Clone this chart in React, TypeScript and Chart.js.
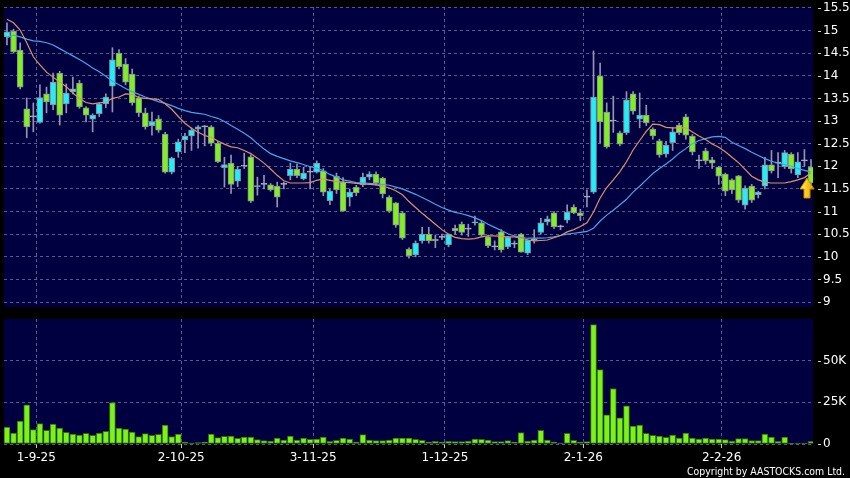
import React, { useEffect, useRef } from 'react';
import { Chart, registerables } from 'chart.js';

Chart.register(...registerables);

// ---------- DATA ----------
const dates = [
  '2025-08-26','2025-08-27','2025-08-28','2025-08-29',
  '2025-09-01','2025-09-02','2025-09-03','2025-09-04','2025-09-05','2025-09-08','2025-09-09','2025-09-10','2025-09-11','2025-09-12',
  '2025-09-15','2025-09-16','2025-09-17','2025-09-18','2025-09-19','2025-09-22','2025-09-23','2025-09-24','2025-09-25','2025-09-26',
  '2025-09-29','2025-09-30',
  '2025-10-02','2025-10-03','2025-10-06','2025-10-08','2025-10-09','2025-10-10','2025-10-13','2025-10-14','2025-10-15','2025-10-16',
  '2025-10-17','2025-10-20','2025-10-21','2025-10-22','2025-10-23','2025-10-24','2025-10-27','2025-10-28','2025-10-30','2025-10-31',
  '2025-11-03','2025-11-04','2025-11-05','2025-11-06','2025-11-07','2025-11-10','2025-11-11','2025-11-12','2025-11-13','2025-11-14',
  '2025-11-17','2025-11-18','2025-11-19','2025-11-20','2025-11-21','2025-11-24','2025-11-25','2025-11-26','2025-11-27','2025-11-28',
  '2025-12-01','2025-12-02','2025-12-03','2025-12-04','2025-12-05','2025-12-08','2025-12-09','2025-12-10','2025-12-11','2025-12-12',
  '2025-12-15','2025-12-16','2025-12-17','2025-12-18','2025-12-19','2025-12-22','2025-12-23','2025-12-24','2025-12-29','2025-12-30',
  '2025-12-31',
  '2026-01-02','2026-01-05','2026-01-06','2026-01-07','2026-01-08','2026-01-09','2026-01-12','2026-01-13','2026-01-14','2026-01-15',
  '2026-01-16','2026-01-19','2026-01-20','2026-01-21','2026-01-22','2026-01-23','2026-01-26','2026-01-27','2026-01-28','2026-01-29',
  '2026-01-30',
  '2026-02-02','2026-02-03','2026-02-04','2026-02-05','2026-02-06','2026-02-09','2026-02-10','2026-02-11','2026-02-12','2026-02-13',
  '2026-02-16','2026-02-20','2026-02-23','2026-02-24','2026-02-25',
];

const tickDates = ['2025-09-01', '2025-10-02', '2025-11-03', '2025-12-01', '2026-01-02', '2026-02-02'];
const tickLabels = ['1-9-25', '2-10-25', '3-11-25', '1-12-25', '2-1-26', '2-2-26'];

const opens = [
  14.86,14.99,14.57,13.27,13.09,12.97,13.6,13.36,14.06,13.38,
  13.65,13.84,13.29,13.04,13.16,13.38,13.77,14.5,14.26,14.04,
  13.51,13.18,12.9,13.05,12.71,11.87,12.32,12.58,12.67,12.82,
  12.87,12.87,12.51,11.97,12.07,11.67,12.0,12.21,11.55,11.6,
  11.59,11.56,11.6,11.79,11.94,11.72,11.87,11.87,11.9,11.24,
  11.78,11.65,11.32,11.54,11.59,11.76,11.83,11.74,11.32,11.19,
  10.97,10.17,10.04,10.35,10.5,10.39,10.43,10.26,10.63,10.72,
  10.61,10.75,10.75,10.44,10.22,10.55,10.22,10.28,10.5,10.08,
  10.37,10.54,10.77,10.97,10.66,10.81,11.1,10.97,11.32,11.43,
  14.0,13.2,13.0,12.74,12.74,13.6,13.04,13.13,12.82,12.56,
  12.27,12.52,12.91,13.09,12.67,12.12,12.34,12.14,11.98,11.83,
  11.7,11.79,11.14,11.56,11.37,11.56,12.03,12.07,11.99,12.27,
  11.81,12.12,11.99,
];
const highs = [
  15.17,15.03,14.73,13.51,13.4,13.8,13.75,14.06,14.1,13.82,
  13.97,13.9,13.32,13.16,13.4,13.6,14.62,14.58,14.38,14.15,
  13.55,13.28,13.2,13.12,12.75,12.2,12.6,12.73,12.85,12.9,
  12.9,12.9,12.55,12.2,12.25,12.0,12.29,12.25,11.76,11.8,
  11.62,11.65,11.65,12.07,12.05,11.98,12.0,12.12,11.95,11.5,
  11.85,11.75,11.5,11.58,11.85,11.88,11.88,11.76,11.35,11.2,
  11.0,10.2,10.35,10.65,10.65,10.48,10.5,10.5,10.7,10.77,
  10.72,10.9,10.8,10.48,10.35,10.6,10.45,10.35,10.52,10.38,
  10.6,10.85,10.9,11.0,10.7,11.15,11.15,11.05,11.48,14.55,
  14.28,13.4,13.55,12.78,13.65,13.65,13.62,13.35,12.85,12.6,
  12.55,12.85,12.95,13.15,12.7,12.25,12.4,12.2,12.0,11.85,
  11.72,11.8,11.57,11.6,11.45,12.2,12.35,12.3,12.35,12.3,
  12.3,12.37,12.15,
];
const lows = [
  14.68,14.5,13.71,12.63,12.76,12.95,13.18,13.25,12.91,13.18,
  13.6,13.28,12.98,12.76,13.1,13.3,13.2,14.15,13.8,13.35,
  13.1,12.82,12.69,12.75,11.85,11.83,12.2,12.3,12.35,12.4,
  12.45,12.45,12.08,11.54,11.4,11.55,11.95,11.2,11.36,11.5,
  11.45,11.1,11.5,11.7,11.75,11.7,11.5,11.85,11.35,11.15,
  11.4,11.0,11.12,11.35,11.55,11.7,11.58,11.3,10.98,10.65,
  10.38,9.97,10.0,10.3,10.3,10.2,10.38,10.22,10.5,10.48,
  10.45,10.7,10.45,10.2,10.15,10.1,10.18,10.2,10.1,10.05,
  10.3,10.5,10.7,10.62,10.6,10.75,10.95,10.8,11.1,11.4,
  12.51,12.4,12.75,12.45,12.7,13.15,12.85,12.9,12.6,12.2,
  12.2,12.35,12.7,12.6,12.25,11.95,12.05,11.95,11.6,11.35,
  11.4,11.2,11.05,11.2,11.3,11.5,11.85,11.75,11.95,11.85,
  11.75,12.0,11.6,
];
const closes = [
  14.97,14.53,13.75,12.87,13.09,13.52,13.42,13.86,13.13,13.62,
  13.71,13.31,13.13,13.13,13.38,13.53,14.35,14.2,13.86,13.4,
  13.18,12.87,12.99,12.8,11.87,12.18,12.54,12.67,12.8,12.87,
  12.87,12.51,12.1,12.04,11.6,11.93,12.0,11.23,11.57,11.6,
  11.48,11.32,11.6,11.94,11.79,11.85,11.87,12.07,11.43,11.45,
  11.48,11.01,11.43,11.41,11.76,11.83,11.63,11.39,11.01,10.7,
  10.41,10.02,10.3,10.5,10.35,10.35,10.43,10.5,10.57,10.54,
  10.61,10.77,10.48,10.24,10.22,10.15,10.43,10.28,10.1,10.37,
  10.37,10.75,10.84,10.66,10.66,10.99,10.97,10.91,11.32,13.53,
  12.98,12.43,13.0,12.49,13.47,13.22,13.13,12.96,12.67,12.25,
  12.47,12.76,12.74,12.69,12.32,12.12,12.12,12.07,11.78,11.45,
  11.48,11.25,11.52,11.25,11.43,12.03,11.9,12.07,12.3,11.94,
  12.1,12.12,11.63,
];
const volumes = [
  10200,6600,13700,23500,8600,12200,8200,12000,9600,7000,
  6000,5400,6400,5200,6600,7600,24900,9600,9000,7200,
  4400,6200,5200,5800,11400,4400,6000,1200,600,900,
  1200,6000,3800,4600,4800,3400,4200,4200,2600,2000,
  1800,3600,2400,4800,2400,3600,2800,2900,4200,1600,
  2200,3600,3000,1000,5600,2400,2000,2000,2400,3600,
  3600,3600,2800,2200,1200,1600,1200,1600,1400,1400,
  1800,3000,2800,2400,1400,1400,2000,1200,6800,1800,
  2400,8200,2400,1200,600,6400,2200,1200,1400,71600,
  44700,17500,33300,15700,22900,10800,11400,6400,5200,4800,
  4000,5400,3600,6600,3600,3000,3600,3000,3000,2600,
  1800,3200,3200,2000,2000,6000,4200,1600,4200,600,
  600,600,1600,
];
const ma10 = [
  15.25,15.17,15.01,14.73,14.42,14.24,14.08,13.97,13.86,13.76,
  13.62,13.5,13.41,13.38,13.4,13.42,13.5,13.53,13.6,13.59,
  13.52,13.5,13.49,13.48,13.38,13.26,13.1,12.95,12.84,12.75,
  12.68,12.64,12.56,12.49,12.43,12.41,12.35,12.28,12.18,12.07,
  11.94,11.8,11.68,11.63,11.63,11.63,11.64,11.69,11.72,11.69,
  11.66,11.65,11.64,11.62,11.61,11.6,11.59,11.56,11.52,11.46,
  11.37,11.22,11.09,10.96,10.84,10.72,10.6,10.5,10.43,10.4,
  10.39,10.4,10.44,10.46,10.46,10.45,10.44,10.44,10.41,10.37,
  10.35,10.36,10.37,10.42,10.47,10.55,10.6,10.67,10.75,10.99,
  11.3,11.53,11.7,11.88,12.1,12.36,12.57,12.77,12.93,12.92,
  12.86,12.85,12.85,12.85,12.76,12.67,12.59,12.49,12.42,12.32,
  12.2,12.08,11.93,11.78,11.7,11.65,11.63,11.63,11.63,11.66,
  11.7,11.75,11.85,
];
const ma20 = [
  14.84,14.9,14.86,14.81,14.77,14.76,14.73,14.68,14.6,14.52,
  14.44,14.36,14.27,14.17,14.09,13.99,13.88,13.8,13.72,13.65,
  13.59,13.53,13.48,13.43,13.39,13.34,13.28,13.23,13.19,13.17,
  13.15,13.1,13.06,12.99,12.9,12.82,12.73,12.63,12.5,12.38,
  12.28,12.22,12.17,12.12,12.08,12.04,11.99,11.96,11.9,11.82,
  11.76,11.7,11.67,11.64,11.63,11.62,11.61,11.6,11.58,11.54,
  11.5,11.44,11.38,11.31,11.24,11.16,11.09,11.03,10.98,10.95,
  10.91,10.86,10.8,10.72,10.65,10.58,10.51,10.46,10.43,10.41,
  10.41,10.41,10.42,10.44,10.47,10.5,10.52,10.54,10.56,10.63,
  10.79,10.92,11.03,11.15,11.27,11.43,11.56,11.7,11.84,11.95,
  12.05,12.16,12.29,12.39,12.5,12.57,12.61,12.65,12.66,12.64,
  12.53,12.46,12.39,12.31,12.24,12.17,12.11,12.07,12.04,12.0,
  11.95,11.91,11.87,
];

const priceTicks = [9, 9.5, 10, 10.5, 11, 11.5, 12, 12.5, 13, 13.5, 14, 14.5, 15, 15.5];
const volumeTicks = [0, 25000, 50000];
const volumeTickLabels = ['0', '25K', '50K'];
const copyrightText = 'Copyright by AASTOCKS.com Ltd.';

// ---------- STYLE ----------
const NAVY = '#000040';
const GRID = 'rgba(120,120,175,0.75)';
const UP = '#22eef6';
const DOWN = '#80f020';
const FLAT = '#b4b4c4';
const WICK = '#9494b0';
const FONT = '"DejaVu Sans", Verdana, sans-serif';
const AXIS_W = 37;
const X_MIN = -0.45;
const X_MAX = 122.3;
const TICK_SHIFT = 0.45; // date boundary drawn half a session right of the candle

const tickIndex = tickDates.map((d) => dates.indexOf(d));

const bgPlugin = {
  id: 'navyBg',
  beforeDraw(chart: any) {
    const { ctx, chartArea: a } = chart;
    ctx.save();
    ctx.fillStyle = NAVY;
    ctx.fillRect(a.left, a.top, a.right - a.left, a.bottom - a.top);
    ctx.restore();
  },
};

const axisDashPlugin = {
  id: 'axisDash',
  afterDraw(chart: any) {
    const s = chart.scales.y;
    const ctx = chart.ctx;
    ctx.save();
    ctx.strokeStyle = '#d0d0d0';
    ctx.lineWidth = 1;
    s.ticks.forEach((t: any) => {
      const y = Math.round(s.getPixelForValue(t.value)) + 0.5;
      ctx.beginPath();
      ctx.moveTo(s.left + 5, y);
      ctx.lineTo(s.left + 8, y);
      ctx.stroke();
    });
    ctx.restore();
  },
};

const arrowPlugin = {
  id: 'lastArrow',
  afterDatasetsDraw(chart: any) {
    const last = closes.length - 1;
    const x = chart.scales.x.getPixelForValue(last) - 4;
    const ty = chart.scales.y.getPixelForValue(closes[last]) - 5;
    const ctx = chart.ctx;
    ctx.save();
    ctx.beginPath();
    ctx.moveTo(x, ty);
    ctx.lineTo(x + 7, ty + 11);
    ctx.lineTo(x + 3, ty + 11);
    ctx.lineTo(x + 3, ty + 20);
    ctx.lineTo(x - 3, ty + 20);
    ctx.lineTo(x - 3, ty + 11);
    ctx.lineTo(x - 7, ty + 11);
    ctx.closePath();
    const g = ctx.createLinearGradient(x - 7, 0, x + 7, 0);
    g.addColorStop(0, '#fff3b0');
    g.addColorStop(0.35, '#ffd428');
    g.addColorStop(1, '#e0a000');
    ctx.fillStyle = g;
    ctx.fill();
    ctx.strokeStyle = '#c88a00';
    ctx.lineWidth = 1;
    ctx.stroke();
    ctx.restore();
  },
};

const copyrightPlugin = {
  id: 'copyright',
  afterDraw(chart: any) {
    const ctx = chart.ctx;
    ctx.save();
    ctx.font = '11px "DejaVu Sans Condensed", "DejaVu Sans", sans-serif';
    ctx.fillStyle = '#ffffff';
    ctx.textBaseline = 'middle';
    ctx.textAlign = 'left';
    const w = ctx.measureText(copyrightText).width;
    const target = 158;
    const sx = w > target ? target / w : 1;
    const right = 845;
    ctx.translate(right - w * sx, chart.height - 6);
    ctx.scale(sx, 1);
    ctx.fillText(copyrightText, 0, 0);
    ctx.restore();
  },
};

function xScale(showLabels: boolean) {
  return {
    type: 'linear',
    min: X_MIN,
    max: X_MAX,
    offset: false,
    afterBuildTicks: (s: any) => {
      s.ticks = tickIndex.map((v) => ({ value: v + TICK_SHIFT }));
    },
    afterFit: (s: any) => {
      s.height = showLabels ? 34 : 0;
      s.paddingLeft = 0;
      s.paddingRight = 0;
    },
    grid: {
      color: GRID,
      offset: false,
      drawTicks: showLabels,
      tickLength: 4,
      tickColor: '#c8c8c8',
      tickBorderDash: [],
    },
    border: { display: false, dash: [3, 3] },
    ticks: {
      display: showLabels,
      autoSkip: false,
      maxRotation: 0,
      padding: 3,
      color: '#ffffff',
      font: { family: FONT, size: 12 },
      callback: (v: any) => {
        const k = tickIndex.indexOf(Math.round(v - TICK_SHIFT));
        return k >= 0 ? tickLabels[k] : '';
      },
    },
  };
}

function yAxisFit(s: any) {
  s.width = AXIS_W;
  s.paddingTop = 0;
  s.paddingBottom = 0;
}

export default function App() {
  const priceRef = useRef<HTMLCanvasElement>(null);
  const volRef = useRef<HTMLCanvasElement>(null);

  useEffect(() => {
    const idx = dates.map((_, i) => i);
    const bodyColor = idx.map((i) =>
      closes[i] > opens[i] ? UP : closes[i] < opens[i] ? DOWN : FLAT
    );

    const price = new Chart(priceRef.current as HTMLCanvasElement, {
      type: 'bar',
      data: {
        datasets: [
          {
            type: 'line',
            label: 'MA10',
            data: idx.map((i) => ({ x: i, y: ma10[i] })),
            borderColor: '#e0906a',
            borderWidth: 1.2,
            pointRadius: 0,
            order: 0,
          } as any,
          {
            type: 'line',
            label: 'MA20',
            data: idx.map((i) => ({ x: i, y: ma20[i] })),
            borderColor: '#46a6e6',
            borderWidth: 1.2,
            pointRadius: 0,
            order: 0,
          } as any,
          {
            type: 'bar',
            label: 'Body',
            data: idx.map((i) => ({ x: i, y: [opens[i], closes[i]] })),
            backgroundColor: bodyColor,
            borderColor: idx.map((i) => (closes[i] === opens[i] ? FLAT : '#8a8aa0')),
            borderWidth: 1,
            borderSkipped: false,
            barThickness: 6,
            minBarLength: 1,
            grouped: false,
            order: 1,
          } as any,
          {
            type: 'bar',
            label: 'Wick',
            data: idx.map((i) => ({ x: i, y: [lows[i], highs[i]] })),
            backgroundColor: WICK,
            borderWidth: 0,
            barThickness: 1,
            grouped: false,
            order: 2,
          } as any,
        ],
      },
      options: {
        animation: false,
        responsive: false,
        maintainAspectRatio: false,
        events: [],
        layout: { padding: { left: 4, top: 7, right: 0, bottom: 5 } },
        plugins: { legend: { display: false }, tooltip: { enabled: false } },
        scales: {
          x: xScale(false) as any,
          y: {
            type: 'linear',
            position: 'right',
            min: 8.89,
            max: 15.52,
            afterBuildTicks: (s: any) => {
              s.ticks = priceTicks.map((v) => ({ value: v }));
            },
            afterFit: yAxisFit,
            grid: { color: GRID, drawTicks: false },
            border: { display: false, dash: [3, 3] },
            ticks: {
              color: '#ffffff',
              padding: 10,
              font: { family: FONT, size: 12 },
              callback: (v: any) => String(v),
            },
          },
        },
      },
      plugins: [bgPlugin, axisDashPlugin, arrowPlugin],
    });

    const vol = new Chart(volRef.current as HTMLCanvasElement, {
      type: 'bar',
      data: {
        datasets: [
          {
            label: 'Volume',
            data: idx.map((i) => ({ x: i, y: volumes[i] })),
            backgroundColor: '#7cf21c',
            borderColor: '#2f6a0a',
            borderWidth: 1,
            borderSkipped: false,
            barThickness: 6,
            grouped: false,
          } as any,
        ],
      },
      options: {
        animation: false,
        responsive: false,
        maintainAspectRatio: false,
        events: [],
        layout: { padding: { left: 4, top: 9, right: 0, bottom: 0 } },
        plugins: { legend: { display: false }, tooltip: { enabled: false } },
        scales: {
          x: xScale(true) as any,
          y: {
            type: 'linear',
            position: 'right',
            min: 0,
            max: 75000,
            afterBuildTicks: (s: any) => {
              s.ticks = volumeTicks.map((v) => ({ value: v }));
            },
            afterFit: yAxisFit,
            grid: { color: GRID, drawTicks: false },
            border: { display: false, dash: [3, 3] },
            ticks: {
              color: '#ffffff',
              padding: 10,
              font: { family: FONT, size: 12 },
              callback: (v: any) => {
                const k = volumeTicks.indexOf(v);
                return k >= 0 ? volumeTickLabels[k] : '';
              },
            },
          },
        },
      },
      plugins: [bgPlugin, axisDashPlugin, copyrightPlugin],
    });

    return () => {
      price.destroy();
      vol.destroy();
    };
  }, []);

  return (
    <div
      style={{
        position: 'fixed',
        left: 0,
        top: 0,
        width: 850,
        height: 478,
        background: '#000000',
        overflow: 'hidden',
      }}
    >
      <canvas
        ref={priceRef}
        width={850}
        height={312}
        style={{ position: 'absolute', left: 0, top: 0, width: 850, height: 312 }}
      />
      <canvas
        ref={volRef}
        width={850}
        height={168}
        style={{ position: 'absolute', left: 0, top: 310, width: 850, height: 168 }}
      />
    </div>
  );
}
